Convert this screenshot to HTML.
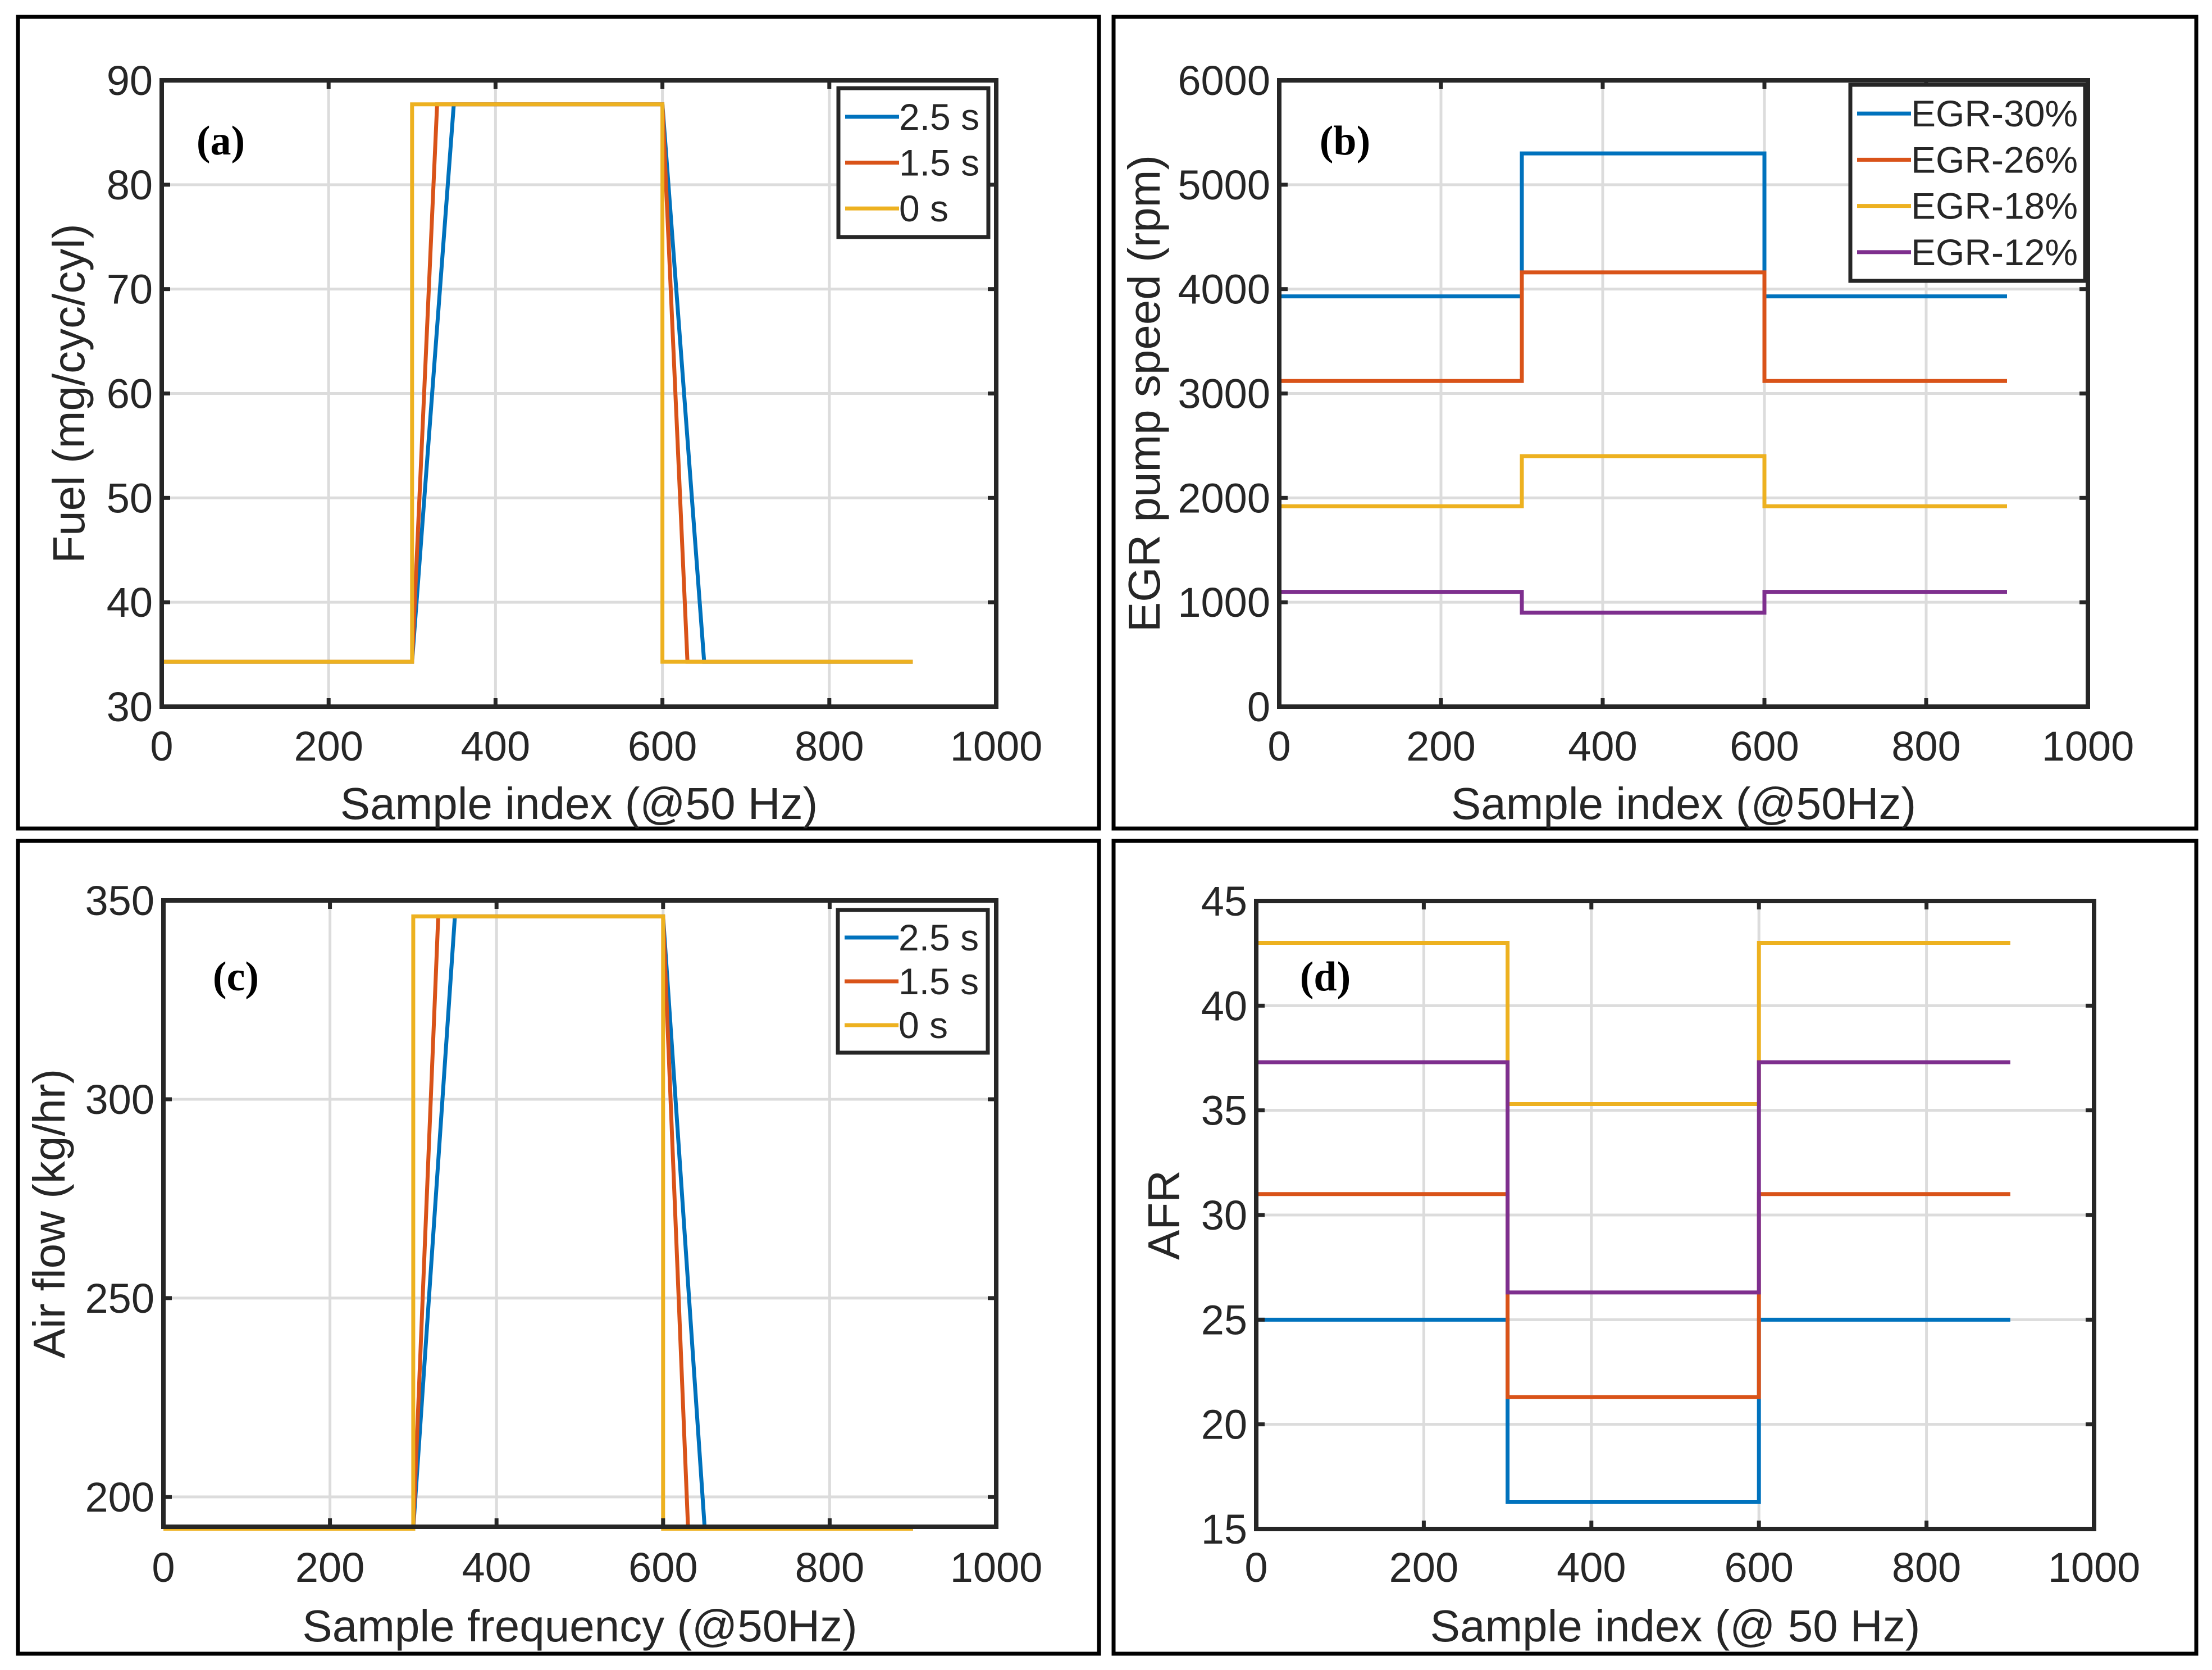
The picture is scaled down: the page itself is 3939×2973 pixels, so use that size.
<!DOCTYPE html>
<html><head><meta charset="utf-8">
<style>
html,body{margin:0;padding:0;background:#fff;}
svg{display:block;}
text{font-family:"Liberation Sans",sans-serif;fill:#262626;}
</style></head>
<body>
<svg id="fig" width="3939" height="2973" viewBox="0 0 3939 2973" xmlns="http://www.w3.org/2000/svg">
<rect x="0" y="0" width="3939" height="2973" fill="#fff"/>
</svg>
<script>
// ---- data ----
const xTicks = [0,200,400,600,800,1000];
const aYTicks = [30,40,50,60,70,80,90];
const aLabels = ["2.5 s","1.5 s","0 s"];
const aX_blue = [0,300,350,600,650,900];
const aX_red = [0,300,330,600,630,900];
const aX_yel = [0,300,300,600,600,900];
const aY_vals = [34.3,34.3,87.7,87.7,34.3,34.3];

const bYTicks = [0,1000,2000,3000,4000,5000,6000];
const bLabels = ["EGR-30%","EGR-26%","EGR-18%","EGR-12%"];
const stepX = [0,300,300,600,600,900];
const b30 = [3930,3930,5300,5300,3930,3930];
const b26 = [3120,3120,4160,4160,3120,3120];
const b18 = [1920,1920,2400,2400,1920,1920];
const b12 = [1100,1100,900,900,1100,1100];

const cYTicks = [200,250,300,350];
const cY_vals = [192,192,346,346,192,192];

const dYTicks = [15,20,25,30,35,40,45];
const d30 = [25,25,16.3,16.3,25,25];
const d26 = [31,31,21.3,21.3,31,31];
const d18 = [43,43,35.3,35.3,43,43];
const d12 = [37.3,37.3,26.3,26.3,37.3,37.3];

const COLORS = ["#0072BD","#D95319","#EDB120","#7E2F8E"];
const NS = "http://www.w3.org/2000/svg";
const svg = document.getElementById('fig');

function mk(tag, attrs, parent){
  const e = document.createElementNS(NS, tag);
  for (const k in attrs) e.setAttribute(k, attrs[k]);
  (parent||svg).appendChild(e);
  return e;
}

function panel(cfg){
  const g = mk('g', {});
  
  
  const box = mk('rect', {x:cfg.box[0], y:cfg.box[1], width:cfg.box[2]-cfg.box[0], height:cfg.box[3]-cfg.box[1], fill:'none', stroke:'#000', 'stroke-width':7}, g);
  
  
  const [L,R,T,B] = cfg.ax;
  const sx = v => L + (v - cfg.xmin)/(cfg.xmax-cfg.xmin)*(R-L);
  const sy = v => B - (v - cfg.ymin)/(cfg.ymax-cfg.ymin)*(B-T);
  xTicks.forEach(t=>{
    const x = sx(t);
    const gl = mk('line',{x1:x,x2:x,y1:T,y2:B,stroke:'#dcdcdc','stroke-width':5},g);
    
    
  });
  cfg.yTicks.forEach(t=>{
    const y = sy(t);
    if (y < T-1 || y > B+1) return;
    const gl = mk('line',{x1:L,x2:R,y1:y,y2:y,stroke:'#dcdcdc','stroke-width':5},g);
    
    
  });
  cfg.series.forEach((s,i)=>{
    const pts = s.x.map((xv,j)=>sx(xv)+','+sy(s.y[j])).join(' ');
    const pl = mk('polyline',{points:pts,fill:'none',stroke:s.c,'stroke-width':7,'stroke-linejoin':'miter'},g);
    
    
  });
  const ab = mk('rect',{x:L,y:T,width:R-L,height:B-T,fill:'none',stroke:'#262626','stroke-width':8},g);
  
  
  xTicks.forEach(t=>{
    const x = sx(t);
    mk('line',{x1:x,x2:x,y1:B,y2:B-15,stroke:'#262626','stroke-width':7},g);
    mk('line',{x1:x,x2:x,y1:T,y2:T+15,stroke:'#262626','stroke-width':7},g);
    const tx = mk('text',{x:x,y:cfg.xTickY,'font-size':74,'text-anchor':'middle'},g);
    tx.textContent = t;
    
    
  });
  cfg.yTicks.forEach(t=>{
    const y = sy(t);
    mk('line',{x1:L,x2:L+15,y1:y,y2:y,stroke:'#262626','stroke-width':7},g);
    mk('line',{x1:R,x2:R-15,y1:y,y2:y,stroke:'#262626','stroke-width':7},g);
    const ty = mk('text',{x:L-16,y:y+26,'font-size':74,'text-anchor':'end'},g);
    ty.textContent = t;
    
    
  });
  const xt = mk('text',{x:(L+R)/2,y:cfg.xTitleY,'font-size':80,'text-anchor':'middle'},g);
  xt.textContent = cfg.xTitle;
  
  
  const cy = (T+B)/2;
  const yt = mk('text',{x:cfg.yTitleX,y:cy,'font-size':80,'text-anchor':'middle',transform:`rotate(-90 ${cfg.yTitleX} ${cy})`},g);
  yt.textContent = cfg.yTitle;
  
  
  const pl = mk('text',{x:cfg.tag[0],y:cfg.tag[1],'font-size':74,'font-weight':'bold','text-anchor':'middle',style:'font-family:"Liberation Serif",serif;fill:#000'},g);
  pl.textContent = cfg.tagText;
  
  
  if (!cfg.leg) return;
  const [lx1,ly1,lx2,ly2] = cfg.leg;
  const lg = mk('g',{},g);
  
  
  mk('rect',{x:lx1,y:ly1,width:lx2-lx1,height:ly2-ly1,fill:'#fff',stroke:'#262626','stroke-width':7},lg);
  const n = cfg.series.length;
  const rowH = (ly2-ly1-20)/n;
  cfg.series.forEach((s,i)=>{
    const yy = ly1 + 10 + rowH*(i+0.5);
    const e = mk('g',{},lg);
    
    
    mk('line',{x1:lx1+12,x2:lx1+108,y1:yy,y2:yy,stroke:s.c,'stroke-width':7},e);
    const lt = mk('text',{x:lx1+108,y:yy+23,'font-size':66},e);
    lt.textContent = s.label;
  });
}

panel({name:'panel-a-fuel', box:[32,30,1957,1475], ax:[288,1774,143,1258],
  xmin:0,xmax:1000,ymin:30,ymax:90, yTicks:aYTicks,
  xTickY:1354, xTitleY:1458, xTitle:'Sample index (@50 Hz)', yTitleX:150, yTitle:'Fuel (mg/cyc/cyl)',
  tag:[393,275], tagText:'(a)', leg:[1493,157,1760,422],
  series:[{n:'series-2-5s',x:aX_blue,y:aY_vals,c:COLORS[0],label:aLabels[0]},
          {n:'series-1-5s',x:aX_red,y:aY_vals,c:COLORS[1],label:aLabels[1]},
          {n:'series-0s',x:aX_yel,y:aY_vals,c:COLORS[2],label:aLabels[2]}]});

panel({name:'panel-b-egr-pump', box:[1983,30,3911,1475], ax:[2278,3718,143,1258],
  xmin:0,xmax:1000,ymin:0,ymax:6000, yTicks:bYTicks,
  xTickY:1354, xTitleY:1458, xTitle:'Sample index (@50Hz)', yTitleX:2065, yTitle:'EGR pump speed (rpm)',
  tag:[2395,275], tagText:'(b)', leg:[3295,151,3713,500],
  series:[{n:'series-egr-30',x:stepX,y:b30,c:COLORS[0],label:bLabels[0]},
          {n:'series-egr-26',x:stepX,y:b26,c:COLORS[1],label:bLabels[1]},
          {n:'series-egr-18',x:stepX,y:b18,c:COLORS[2],label:bLabels[2]},
          {n:'series-egr-12',x:stepX,y:b12,c:COLORS[3],label:bLabels[3]}]});

panel({name:'panel-c-air-flow', box:[32,1497,1957,2944], ax:[291,1774,1603,2718],
  xmin:0,xmax:1000,ymin:192.5,ymax:350, yTicks:cYTicks,
  xTickY:2816, xTitleY:2922, xTitle:'Sample frequency (@50Hz)', yTitleX:115, yTitle:'Air flow (kg/hr)',
  tag:[420,1763], tagText:'(c)', leg:[1492,1620,1759,1874],
  series:[{n:'series-2-5s',x:aX_blue,y:cY_vals,c:COLORS[0],label:aLabels[0]},
          {n:'series-1-5s',x:aX_red,y:cY_vals,c:COLORS[1],label:aLabels[1]},
          {n:'series-0s',x:aX_yel,y:cY_vals,c:COLORS[2],label:aLabels[2]}]});

panel({name:'panel-d-afr', box:[1983,1497,3911,2944], ax:[2237,3729,1604,2722],
  xmin:0,xmax:1000,ymin:15,ymax:45, yTicks:dYTicks,
  xTickY:2816, xTitleY:2922, xTitle:'Sample index (@ 50 Hz)', yTitleX:2100, yTitle:'AFR',
  tag:[2360,1763], tagText:'(d)', leg:null,
  series:[{n:'series-egr-30',x:stepX,y:d30,c:COLORS[0],label:''},
          {n:'series-egr-26',x:stepX,y:d26,c:COLORS[1],label:''},
          {n:'series-egr-18',x:stepX,y:d18,c:COLORS[2],label:''},
          {n:'series-egr-12',x:stepX,y:d12,c:COLORS[3],label:''}]});
</script>
</body></html>
